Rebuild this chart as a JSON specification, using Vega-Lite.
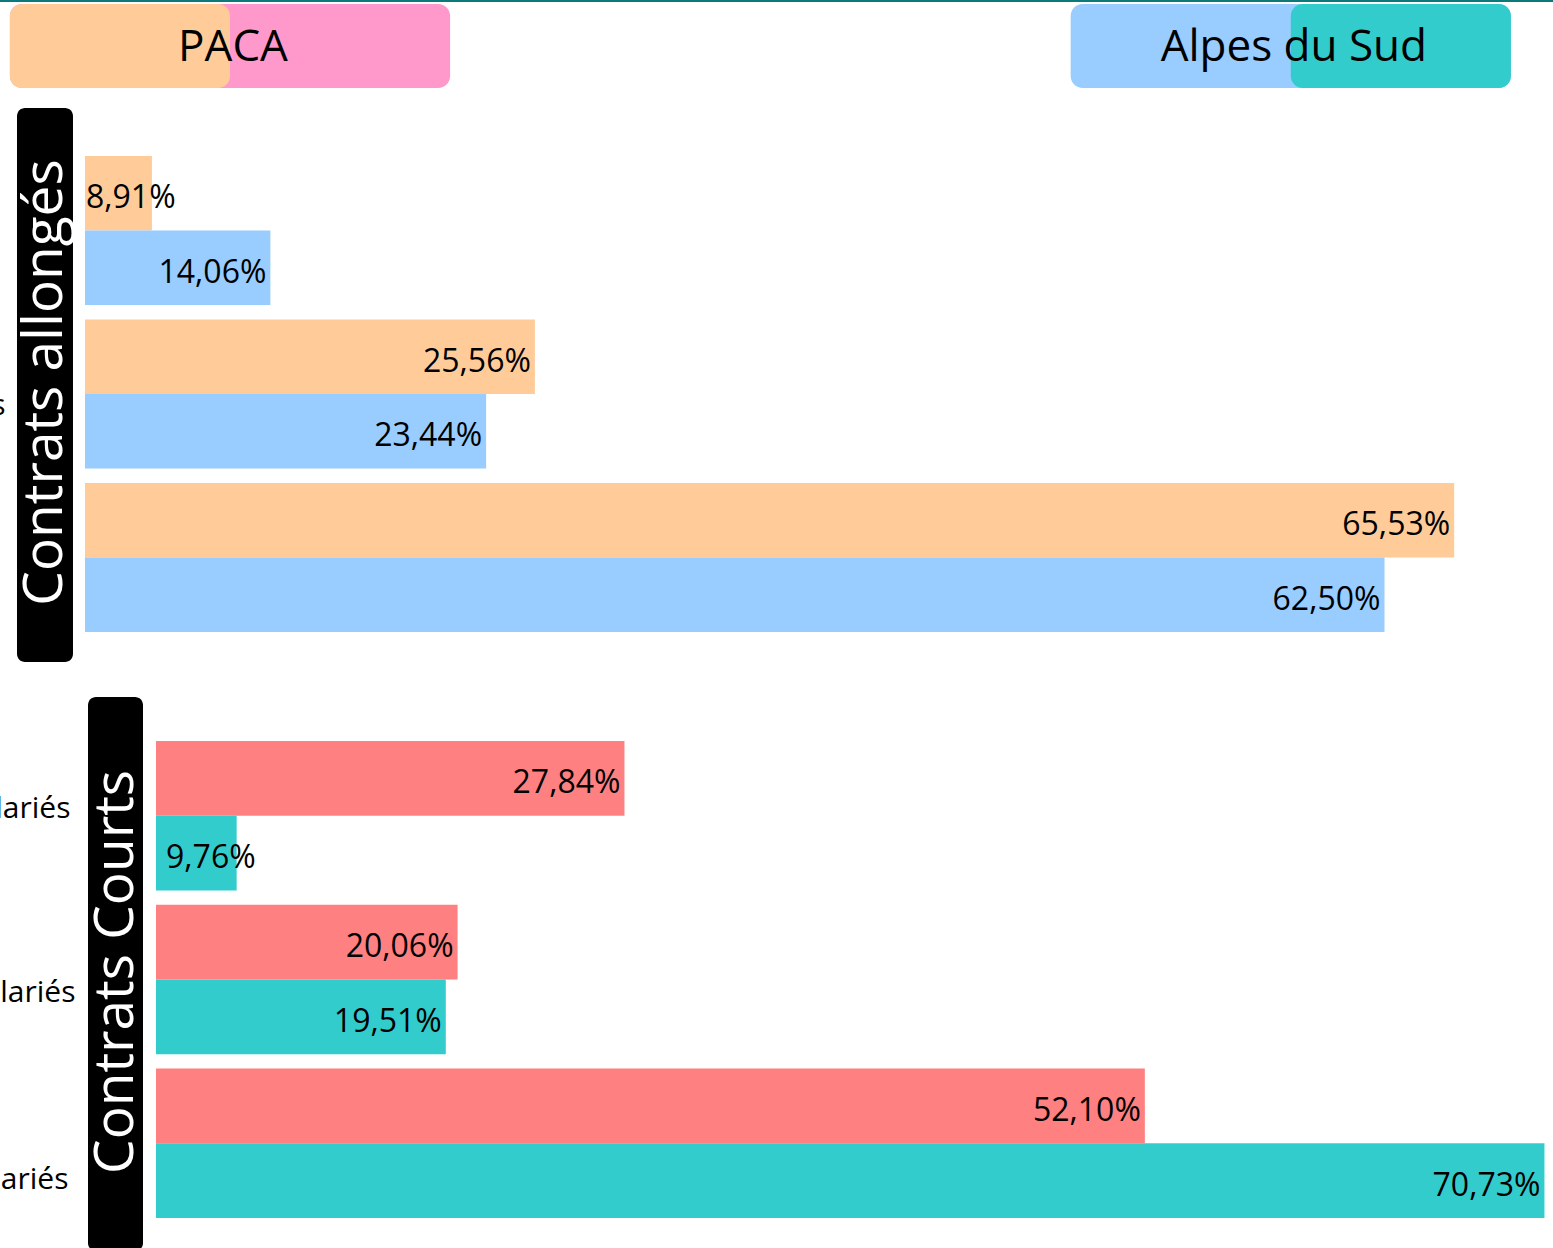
{
  "$schema": "https://vega.github.io/schema/vega-lite/v6.json",
  "autosize": {"type": "none"},
  "padding": {"left": 0, "top": 0, "right": 1553, "bottom": 1248},
  "background": "white",
  "config": {
    "font": "Open Sans",
    "view": {"stroke": null},
    "text": {"color": "black", "font": "Open Sans"},
    "axis": {"labelFont": "Open Sans"},
    "locale": {"number": {"decimal": ",", "thousands": " ", "grouping": [3], "currency": ["", " €"]}}
  },
  "datasets": {
    "bars": [
      {"panel": "Contrats allongés", "category": "Moins de 10 salariés", "region": "PACA", "value": 0.0891},
      {"panel": "Contrats allongés", "category": "Moins de 10 salariés", "region": "Alpes du Sud", "value": 0.1406},
      {"panel": "Contrats allongés", "category": "De 10 à 49 salariés", "region": "PACA", "value": 0.2556},
      {"panel": "Contrats allongés", "category": "De 10 à 49 salariés", "region": "Alpes du Sud", "value": 0.2344},
      {"panel": "Contrats allongés", "category": "Plus de 50 salariés", "region": "PACA", "value": 0.6553},
      {"panel": "Contrats allongés", "category": "Plus de 50 salariés", "region": "Alpes du Sud", "value": 0.625},
      {"panel": "Contrats Courts", "category": "Moins de 10 salariés", "region": "PACA", "value": 0.2784},
      {"panel": "Contrats Courts", "category": "Moins de 10 salariés", "region": "Alpes du Sud", "value": 0.0976},
      {"panel": "Contrats Courts", "category": "De 10 à 49 salariés", "region": "PACA", "value": 0.2006},
      {"panel": "Contrats Courts", "category": "De 10 à 49 salariés", "region": "Alpes du Sud", "value": 0.1951},
      {"panel": "Contrats Courts", "category": "Plus de 50 salariés", "region": "PACA", "value": 0.521},
      {"panel": "Contrats Courts", "category": "Plus de 50 salariés", "region": "Alpes du Sud", "value": 0.7073}
    ],
    "legend": [
      {"region": "PACA", "type": "Contrats allongés"},
      {"region": "PACA", "type": "Contrats Courts"},
      {"region": "Alpes du Sud", "type": "Contrats allongés"},
      {"region": "Alpes du Sud", "type": "Contrats Courts"}
    ],
    "panels": [
      {"panel": "Contrats allongés"},
      {"panel": "Contrats Courts"}
    ]
  },
  "bounds": "flush",
  "spacing": 2,
  "resolve": {"scale": {"x": "independent", "y": "independent", "color": "independent", "xOffset": "independent", "yOffset": "independent"}},
  "vconcat": [
    {
      "width": 1553, "height": 2,
      "view": {"fill": "#0b7a79", "stroke": null},
      "data": {"name": "panels"},
      "mark": {"type": "text", "opacity": 0},
      "encoding": {"text": {"field": "panel"}}
    },
    {
      "width": 1553, "height": 84,
      "data": {"name": "legend"},
      "encoding": {
        "x": {"field": "region", "type": "nominal", "axis": null,
              "scale": {"domain": ["PACA", "Alpes du Sud"], "paddingInner": 0.585, "paddingOuter": 0.0245, "align": 0.19}}
      },
      "layer": [
        {
          "transform": [{"filter": "(datum.region == 'PACA' && datum.type == 'Contrats Courts') || (datum.region == 'Alpes du Sud' && datum.type == 'Contrats allongés')"}],
          "mark": {"type": "rect", "cornerRadius": 12},
          "encoding": {
            "color": {"field": "region", "type": "nominal", "legend": null,
                      "scale": {"domain": ["PACA", "Alpes du Sud"], "range": ["#FF99CC", "#99CCFF"]}}
          }
        },
        {
          "transform": [{"filter": "(datum.region == 'PACA' && datum.type == 'Contrats allongés') || (datum.region == 'Alpes du Sud' && datum.type == 'Contrats Courts')"}],
          "mark": {"type": "rect", "cornerRadius": 12},
          "encoding": {
            "xOffset": {"field": "type", "type": "nominal", "scale": {"domain": ["Contrats allongés", "Contrats Courts"]}},
            "color": {"field": "region", "type": "nominal", "legend": null,
                      "scale": {"domain": ["PACA", "Alpes du Sud"], "range": ["#FFCC99", "#33CCCC"]}}
          }
        },
        {
          "transform": [{"filter": "datum.type == 'Contrats allongés'"}],
          "mark": {"type": "text", "fontSize": 44, "baseline": "middle", "align": "center", "color": "black", "dy": 2, "dx": 3},
          "encoding": {"text": {"field": "region"}}
        }
      ],
      "resolve": {"scale": {"color": "independent"}}
    },
    {
      "width": 1553, "height": 605,
      "layer": [
        {
          "data": {"name": "panels"},
          "transform": [{"filter": "datum.panel == 'Contrats allongés'"}],
          "mark": {"type": "rect", "cornerRadius": 8, "color": "black"},
          "encoding": {
            "x": {"datum": 0.0304348, "type": "quantitative", "axis": null, "scale": {"domain": [0.0230435, 0.6982609], "zero": false, "nice": false}},
            "x2": {"datum": 0.0547826},
            "y": {"field": "panel", "type": "nominal", "axis": null, "scale": {"domain": ["Contrats allongés"], "paddingInner": 0, "paddingOuter": 0.046029, "align": 0.35294}}
          }
        },
        {
          "data": {"name": "panels"},
          "transform": [{"filter": "datum.panel == 'Contrats allongés'"}],
          "mark": {"type": "text", "angle": 270, "color": "white", "fontSize": 55, "baseline": "middle", "align": "center", "dx": 10},
          "encoding": {
            "x": {"datum": 0.0426087, "type": "quantitative", "axis": null, "scale": {"domain": [0.0230435, 0.6982609], "zero": false, "nice": false}},
            "text": {"field": "panel"}
          }
        },
        {
          "data": {"name": "bars"},
          "transform": [{"filter": "datum.panel == 'Contrats allongés'"}],
          "mark": {"type": "bar"},
          "encoding": {
            "x": {"field": "value", "type": "quantitative", "axis": null, "scale": {"domain": [0.0230435, 0.6982609], "zero": false, "nice": false}},
            "x2": {"datum": 0.06},
            "y": {"field": "category", "type": "nominal",
                  "scale": {"domain": ["Moins de 10 salariés", "De 10 à 49 salariés", "Plus de 50 salariés"], "paddingInner": 0.088, "paddingOuter": 0.39459, "align": 0.51163},
                  "axis": {"title": null, "domain": false, "ticks": false, "labelFontSize": 30, "labelAlign": "right", "labelBaseline": "middle", "labelLimit": 1000, "labelColor": "black",
                           "labelPadding": {"condition": [{"test": "datum.value == 'De 10 à 49 salariés'", "value": -5}, {"test": "datum.value == 'Plus de 50 salariés'", "value": 2}], "value": 0},
                           "labelOffset": {"condition": [{"test": "datum.value == 'De 10 à 49 salariés'", "value": 12}, {"test": "datum.value == 'Plus de 50 salariés'", "value": 36}], "value": -7}}},
            "yOffset": {"field": "region", "type": "nominal", "scale": {"domain": ["PACA", "Alpes du Sud"]}},
            "color": {"field": "region", "type": "nominal", "legend": null, "scale": {"domain": ["PACA", "Alpes du Sud"], "range": ["#FFCC99", "#99CCFF"]}}
          }
        },
        {
          "data": {"name": "bars"},
          "transform": [{"filter": "datum.panel == 'Contrats allongés' && datum.value >= 0.12"}],
          "mark": {"type": "text", "align": "right", "baseline": "middle", "dx": -4, "dy": 5, "fontSize": 32, "color": "black"},
          "encoding": {
            "x": {"field": "value", "type": "quantitative", "axis": null, "scale": {"domain": [0.0230435, 0.6982609], "zero": false, "nice": false}},
            "y": {"field": "category", "type": "nominal", "axis": null,
                  "scale": {"domain": ["Moins de 10 salariés", "De 10 à 49 salariés", "Plus de 50 salariés"], "paddingInner": 0.088, "paddingOuter": 0.39459, "align": 0.51163}},
            "yOffset": {"field": "region", "type": "nominal", "scale": {"domain": ["PACA", "Alpes du Sud"]}},
            "text": {"field": "value", "type": "quantitative", "format": ".2%"}
          }
        },
        {
          "data": {"name": "bars"},
          "transform": [{"filter": "datum.panel == 'Contrats allongés' && datum.value < 0.12"}],
          "mark": {"type": "text", "align": "left", "baseline": "middle", "dx": 1, "dy": 5, "fontSize": 32, "color": "black"},
          "encoding": {
            "x": {"datum": 0.06, "type": "quantitative", "axis": null, "scale": {"domain": [0.0230435, 0.6982609], "zero": false, "nice": false}},
            "y": {"field": "category", "type": "nominal", "axis": null,
                  "scale": {"domain": ["Moins de 10 salariés", "De 10 à 49 salariés", "Plus de 50 salariés"], "paddingInner": 0.088, "paddingOuter": 0.39459, "align": 0.51163}},
            "yOffset": {"field": "region", "type": "nominal", "scale": {"domain": ["PACA", "Alpes du Sud"]}},
            "text": {"field": "value", "type": "quantitative", "format": ".2%"}
          }
        }
      ],
      "resolve": {"scale": {"x": "independent", "y": "independent"}}
    },
    {
      "width": 1553, "height": 554,
      "layer": [
        {
          "data": {"name": "panels"},
          "transform": [{"filter": "datum.panel == 'Contrats Courts'"}],
          "mark": {"type": "rect", "cornerRadius": 8, "color": "black"},
          "encoding": {
            "x": {"datum": 0.0282984, "type": "quantitative", "axis": null, "scale": {"domain": [-0.0127273, 0.7112821], "zero": false, "nice": false}},
            "x2": {"datum": 0.0539394},
            "y": {"field": "panel", "type": "nominal", "axis": null, "scale": {"domain": ["Contrats Courts"], "paddingInner": 0, "paddingOuter": 0}}
          }
        },
        {
          "data": {"name": "panels"},
          "transform": [{"filter": "datum.panel == 'Contrats Courts'"}],
          "mark": {"type": "text", "angle": 270, "color": "white", "fontSize": 55, "baseline": "middle", "align": "center", "dx": 2},
          "encoding": {
            "x": {"datum": 0.041352, "type": "quantitative", "axis": null, "scale": {"domain": [-0.0127273, 0.7112821], "zero": false, "nice": false}},
            "text": {"field": "panel"}
          }
        },
        {
          "data": {"name": "bars"},
          "transform": [{"filter": "datum.panel == 'Contrats Courts'"}],
          "mark": {"type": "bar"},
          "encoding": {
            "x": {"field": "value", "type": "quantitative", "axis": null, "scale": {"domain": [-0.0127273, 0.7112821], "zero": false, "nice": false}},
            "x2": {"datum": 0.06},
            "y": {"field": "category", "type": "nominal",
                  "scale": {"domain": ["Moins de 10 salariés", "De 10 à 49 salariés", "Plus de 50 salariés"], "paddingInner": 0.088, "paddingOuter": 0.23504, "align": 0.5714},
                  "axis": {"title": null, "domain": false, "ticks": false, "labelFontSize": 30, "labelAlign": "right", "labelBaseline": "middle", "labelLimit": 1000, "labelColor": "black",
                           "labelPadding": {"condition": [{"test": "datum.value == 'De 10 à 49 salariés'", "value": -75}, {"test": "datum.value == 'Plus de 50 salariés'", "value": -68}], "value": -70},
                           "labelOffset": {"condition": [{"test": "datum.value == 'De 10 à 49 salariés'", "value": 14}, {"test": "datum.value == 'Plus de 50 salariés'", "value": 37}], "value": -7}}},
            "yOffset": {"field": "region", "type": "nominal", "scale": {"domain": ["PACA", "Alpes du Sud"]}},
            "color": {"field": "region", "type": "nominal", "legend": null, "scale": {"domain": ["PACA", "Alpes du Sud"], "range": ["#FF8080", "#33CCCC"]}}
          }
        },
        {
          "data": {"name": "bars"},
          "transform": [{"filter": "datum.panel == 'Contrats Courts' && datum.value >= 0.12"}],
          "mark": {"type": "text", "align": "right", "baseline": "middle", "dx": -4, "dy": 5, "fontSize": 32, "color": "black"},
          "encoding": {
            "x": {"field": "value", "type": "quantitative", "axis": null, "scale": {"domain": [-0.0127273, 0.7112821], "zero": false, "nice": false}},
            "y": {"field": "category", "type": "nominal", "axis": null,
                  "scale": {"domain": ["Moins de 10 salariés", "De 10 à 49 salariés", "Plus de 50 salariés"], "paddingInner": 0.088, "paddingOuter": 0.23504, "align": 0.5714}},
            "yOffset": {"field": "region", "type": "nominal", "scale": {"domain": ["PACA", "Alpes du Sud"]}},
            "text": {"field": "value", "type": "quantitative", "format": ".2%"}
          }
        },
        {
          "data": {"name": "bars"},
          "transform": [{"filter": "datum.panel == 'Contrats Courts' && datum.value < 0.12"}],
          "mark": {"type": "text", "align": "left", "baseline": "middle", "dx": 10, "dy": 5, "fontSize": 32, "color": "black"},
          "encoding": {
            "x": {"datum": 0.06, "type": "quantitative", "axis": null, "scale": {"domain": [-0.0127273, 0.7112821], "zero": false, "nice": false}},
            "y": {"field": "category", "type": "nominal", "axis": null,
                  "scale": {"domain": ["Moins de 10 salariés", "De 10 à 49 salariés", "Plus de 50 salariés"], "paddingInner": 0.088, "paddingOuter": 0.23504, "align": 0.5714}},
            "yOffset": {"field": "region", "type": "nominal", "scale": {"domain": ["PACA", "Alpes du Sud"]}},
            "text": {"field": "value", "type": "quantitative", "format": ".2%"}
          }
        }
      ],
      "resolve": {"scale": {"x": "independent", "y": "independent"}}
    }
  ]
}
